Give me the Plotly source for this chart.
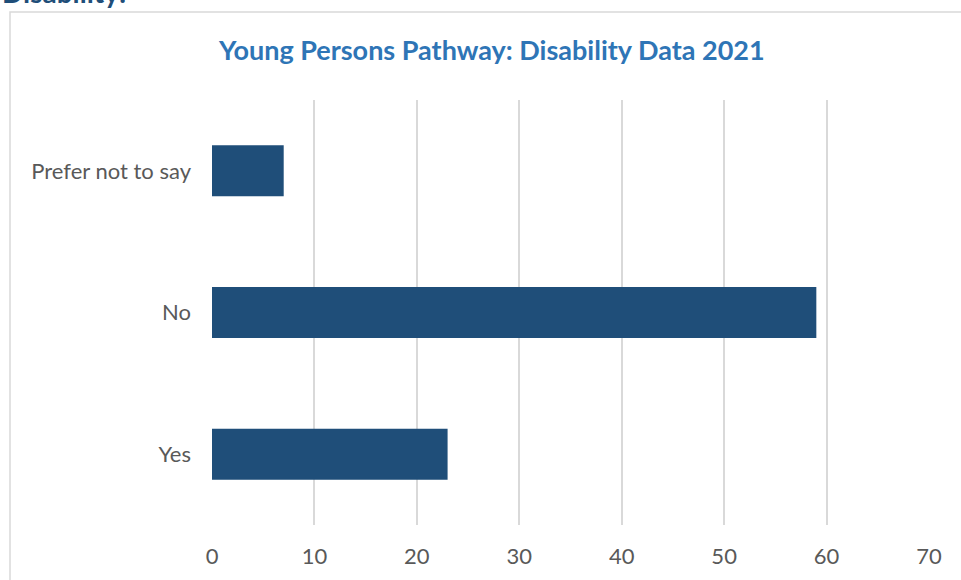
import plotly.graph_objects as go

categories = ["Yes", "No", "Prefer not to say"]
values = [23, 59, 7]
x_ticks = [0, 10, 20, 30, 40, 50, 60, 70]

W, H = 961, 580
L, R, T, B = 212, 32, 100, 55
pw, ph = W - L - R, H - T - B

def px_x(x):
    return (x - L) / pw

def px_y(y):
    return 1 - (y - T) / ph

fig = go.Figure(go.Bar(
    y=categories, x=values, orientation="h",
    marker=dict(color="#1F4E79", line=dict(width=0)),
))

fig.update_layout(
    width=W, height=H,
    margin=dict(l=L, r=R, t=T, b=B),
    paper_bgcolor="white", plot_bgcolor="white",
    bargap=0.64,
    showlegend=False,
    font=dict(family="Lato", color="#595959", size=22),
    xaxis=dict(range=[0, 70], tickvals=x_ticks, showgrid=True,
               gridcolor="#D9D9D9", gridwidth=1.5, zeroline=False,
               showline=False, ticks="", ticklabelstandoff=16,
               tickfont=dict(size=22, color="#595959")),
    yaxis=dict(showgrid=False, zeroline=False, showline=False, ticks="",
               ticklabelstandoff=20,
               tickfont=dict(size=22, color="#595959")),
    shapes=[dict(type="rect", xref="paper", yref="paper",
                 x0=px_x(10), x1=px_x(975), y0=px_y(600), y1=px_y(12),
                 line=dict(color="#D9D9D9", width=1.5), fillcolor="rgba(0,0,0,0)",
                 layer="below")],
    annotations=[
        dict(text="<b>Young Persons Pathway: Disability Data 2021</b>",
             xref="paper", yref="paper", x=px_x(491), y=px_y(50),
             xanchor="center", yanchor="middle", showarrow=False,
             font=dict(family="Lato", size=27, color="#2E75B6")),
        dict(text="<b>Disability:</b>",
             xref="paper", yref="paper", x=px_x(0), y=px_y(11),
             xanchor="left", yanchor="bottom", showarrow=False,
             font=dict(family="Lato", size=28, color="#1F4E79")),
    ],
)

fig.write_html("out.html")
